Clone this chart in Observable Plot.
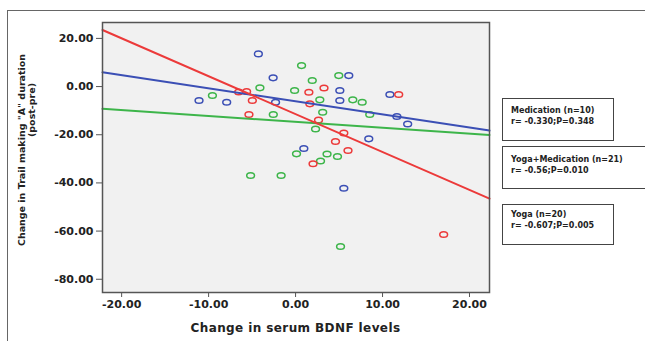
<!DOCTYPE html>
<html><head><meta charset="utf-8">
<script src="https://cdn.jsdelivr.net/npm/d3@7"></script>
<script src="https://cdn.jsdelivr.net/npm/@observablehq/plot@0.6"></script>
<style>
body{margin:0;background:#fff;}
#wrap{position:relative;width:645px;height:341px;overflow:hidden;font-family:"DejaVu Sans",sans-serif;font-weight:bold;color:#222;}
#wrap svg{position:absolute;left:0;top:0;}
.outer{position:absolute;left:7px;top:10px;width:700px;height:400px;border-left:1.5px solid #666;border-top:1.5px solid #666;}
.box{position:absolute;border:1.6px solid #444;box-sizing:border-box;font-size:8px;line-height:10.5px;padding:7px 0 0 8px;background:#fff;white-space:nowrap;}
</style></head><body><div id="wrap"><div class="outer"></div></div>
<script>
// ---- data ----
const xTicks = [-20, -10, 0, 10, 20];
const yTicks = [20, 0, -20, -40, -60, -80];

// Medication (blue)
const medX = [-4.28, -2.58, -11.10, -7.92, -2.30, 6.12, 5.09, 5.09, 10.85, 11.65, 12.89, 8.42, 0.95, 5.55];
const medY = [13.57, 3.61, -5.81, -6.51, -6.51, 4.56, -1.66, -5.81, -3.32, -12.45, -15.56, -21.70, -25.73, -42.20];

// Yoga (red)
const yogaX = [-6.54, -5.63, -4.97, -5.36, 1.53, 3.27, 1.64, 2.64, 11.86, 5.55, 4.59, 6.03, 2.01, 17.03];
const yogaY = [-2.28, -2.07, -5.81, -11.62, -2.37, -0.62, -7.18, -13.90, -3.32, -19.29, -22.82, -26.56, -32.07, -61.41];

// Yoga+Medication (green)
const ymX = [0.69, -4.10, -0.11, 1.92, -9.56, -2.56, 4.97, 2.79, 6.58, 7.66, 3.12, 8.53, 2.30, 0.11, 2.87, 3.62, 4.82, -5.17, -1.66, 5.17];
const ymY = [8.71, -0.54, -1.66, 2.49, -3.73, -11.62, 4.56, -5.52, -5.52, -6.51, -10.66, -11.62, -17.63, -27.93, -30.91, -28.01, -29.05, -36.93, -36.93, -66.39];

// fit lines (ends at the axis limits)
const fitX = [-22.2, 22.3];
const fitMed = [5.93, -18.26];
const fitYM = [-9.25, -20.12];
const fitYoga = [23.5, -46.5];

const groups = ["Medication", "Yoga+Medication", "Yoga"];
const colors = ["#3b4fb5", "#3db54a", "#ec3a3a"];
const legendLines = [
  ["Medication (n=10)", "r= -0.330;P=0.348"],
  ["Yoga+Medication (n=21)", "r= -0.56;P=0.010"],
  ["Yoga (n=20)", "r= -0.607;P=0.005"]
];
const xTitle = "Change in serum BDNF levels";
const yTitle = ["Change in Trail making \"A\" duration", "(post-pre)"];

// ---- build tables ----
const pts = [
  ...medX.map((x, i) => ({x, y: medY[i], g: groups[0]})),
  ...ymX.map((x, i) => ({x, y: ymY[i], g: groups[1]})),
  ...yogaX.map((x, i) => ({x, y: yogaY[i], g: groups[2]}))
];
const lines = [
  ...fitX.map((x, i) => ({x, y: fitMed[i], g: groups[0]})),
  ...fitX.map((x, i) => ({x, y: fitYM[i], g: groups[1]})),
  ...fitX.map((x, i) => ({x, y: fitYoga[i], g: groups[2]}))
];

const ellipse = {draw(ctx) {
  const rx = 3.9, ry = 2.8, k = 0.5523;
  ctx.moveTo(rx, 0);
  ctx.bezierCurveTo(rx, k * ry, k * rx, ry, 0, ry);
  ctx.bezierCurveTo(-k * rx, ry, -rx, k * ry, -rx, 0);
  ctx.bezierCurveTo(-rx, -k * ry, -k * rx, -ry, 0, -ry);
  ctx.bezierCurveTo(k * rx, -ry, rx, -k * ry, rx, 0);
  ctx.closePath();
}};

const fmt = d => d.toFixed(2);

const chart = Plot.plot({
  width: 645, height: 341,
  marginLeft: 102, marginRight: 156, marginTop: 22, marginBottom: 49,
  style: {fontFamily: "DejaVu Sans", fontWeight: "bold", fontSize: "11px", color: "#222", background: "transparent"},
  x: {domain: [-22.2, 22.3]},
  y: {domain: [-85.5, 26.6]},
  color: {domain: groups, range: colors},
  marks: [
    Plot.frame({fill: "#f1f1f1", stroke: "none"}),
    Plot.dot(pts, {x: "x", y: "y", stroke: "g", symbol: ellipse, strokeWidth: 1.5, fill: "none"}),
    Plot.line(lines, {x: "x", y: "y", z: "g", stroke: "g", strokeWidth: 2}),
    Plot.frame({stroke: "#555", strokeWidth: 1.5}),
    Plot.axisX({ticks: xTicks, tickFormat: fmt, tickSize: 5, tickPadding: 3, label: null, stroke: "#555"}),
    Plot.axisY({ticks: yTicks, tickFormat: fmt, tickSize: 6, tickPadding: 3, label: null, stroke: "#555"})
  ]
});

const wrap = document.getElementById("wrap");
wrap.appendChild(chart);

const svg = d3.select(chart);
const xr = chart.scale("x").range;
svg.append("text")
  .attr("x", (xr[0] + xr[1]) / 2).attr("y", 332)
  .attr("text-anchor", "middle").attr("font-size", 12).attr("letter-spacing", 0.4)
  .attr("fill", "#222").text(xTitle);
svg.append("text")
  .attr("transform", `translate(25,150) rotate(-90)`)
  .attr("text-anchor", "middle").attr("font-size", 9.5).attr("fill", "#222").text(yTitle[0]);
svg.append("text")
  .attr("transform", `translate(35,110) rotate(-90)`)
  .attr("text-anchor", "middle").attr("font-size", 9.5).attr("fill", "#222").text(yTitle[1]);

// legend boxes
const boxes = [
  {left: 502, top: 98, width: 112, height: 43, pad: 7},
  {left: 502, top: 146, width: 150, height: 43, pad: 8},
  {left: 502, top: 204, width: 112, height: 41, pad: 5}
];
legendLines.forEach((l, i) => {
  const b = boxes[i];
  const d = document.createElement("div");
  d.className = "box";
  Object.assign(d.style, {left: b.left + "px", top: b.top + "px", width: b.width + "px", height: b.height + "px", paddingTop: b.pad + "px"});
  d.innerHTML = l[0] + "<br>" + l[1];
  wrap.appendChild(d);
});
</script></body></html>
